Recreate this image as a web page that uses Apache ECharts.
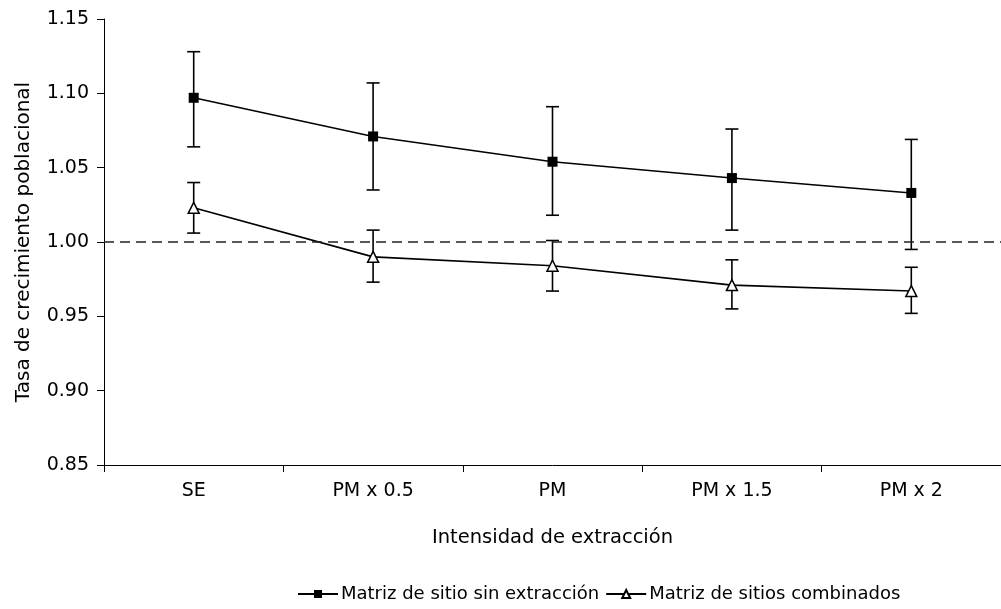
<!DOCTYPE html>
<html>
<head>
<meta charset="utf-8">
<script src="https://cdn.jsdelivr.net/npm/echarts@6/dist/echarts.min.js"></script>
<style>
  html, body { margin: 0; padding: 0; background: #fff; }
  #chart { width: 1001px; height: 609px; }
</style>
</head>
<body>
<div id="chart"></div>
<script>
// Intensity levels of extraction
const categories = ['SE', 'PM x 0.5', 'PM', 'PM x 1.5', 'PM x 2'];

// Growth rate, site matrix without extraction (mean and interval limits)
const sinExtraccion     = [1.097, 1.071, 1.054, 1.043, 1.033];
const sinExtraccionLow  = [1.064, 1.035, 1.018, 1.008, 0.995];
const sinExtraccionHigh = [1.128, 1.107, 1.091, 1.076, 1.069];

// Growth rate, combined sites matrix (mean and interval limits)
const combinados     = [1.023, 0.990, 0.984, 0.971, 0.967];
const combinadosLow  = [1.006, 0.973, 0.967, 0.955, 0.952];
const combinadosHigh = [1.040, 1.008, 1.001, 0.988, 0.983];

const yTicks = [0.85, 0.90, 0.95, 1.00, 1.05, 1.10, 1.15];

const FONT = '"DejaVu Sans", "Liberation Sans", Arial, sans-serif';
const INK = '#000';

function errorData(low, high) {
  return categories.map((c, i) => [i, low[i], high[i]]);
}

// Vertical whisker with horizontal caps
function renderError(params, api) {
  const x = api.value(0);
  const lo = api.coord([x, api.value(1)]);
  const hi = api.coord([x, api.value(2)]);
  const half = 6.5;
  const style = { stroke: INK, lineWidth: 1.6, fill: null };
  return {
    type: 'group',
    children: [
      { type: 'line', shape: { x1: lo[0], y1: lo[1], x2: hi[0], y2: hi[1] }, style },
      { type: 'line', shape: { x1: hi[0] - half, y1: hi[1], x2: hi[0] + half, y2: hi[1] }, style },
      { type: 'line', shape: { x1: lo[0] - half, y1: lo[1], x2: lo[0] + half, y2: lo[1] }, style }
    ]
  };
}

const chart = echarts.init(document.getElementById('chart'), null, { renderer: 'canvas' });

chart.setOption({
  backgroundColor: '#fff',
  animation: false,
  textStyle: { fontFamily: FONT, color: INK },
  grid: { left: 104, top: 19, width: 902, height: 446, containLabel: false },
  legend: {
    data: ['Matriz de sitio sin extracción', 'Matriz de sitios combinados'],
    left: 292,
    top: 580,
    itemWidth: 40,
    itemHeight: 10,
    itemGap: 6,
    textStyle: { fontFamily: FONT, fontSize: 18, color: INK, padding: [0, 0, 0, -2] }
  },
  xAxis: {
    type: 'category',
    data: categories,
    boundaryGap: true,
    name: 'Intensidad de extracción',
    nameLocation: 'middle',
    nameGap: 63,
    nameTextStyle: { fontFamily: FONT, fontSize: 19.5, color: INK },
    axisLine: { lineStyle: { color: INK, width: 1 } },
    axisTick: { show: true, inside: false, length: 7, alignWithLabel: false, lineStyle: { color: INK } },
    axisLabel: { fontFamily: FONT, fontSize: 19, color: INK, margin: 17 },
    splitLine: { show: false }
  },
  yAxis: {
    type: 'value',
    min: yTicks[0],
    max: yTicks[yTicks.length - 1],
    interval: 0.05,
    name: 'Tasa de crecimiento poblacional',
    nameLocation: 'middle',
    nameGap: 70,
    nameTextStyle: { fontFamily: FONT, fontSize: 20, color: INK },
    axisLine: { show: true, lineStyle: { color: INK, width: 1 } },
    axisTick: { show: true, inside: false, length: 7, lineStyle: { color: INK } },
    axisLabel: {
      fontFamily: FONT, fontSize: 19, color: INK, margin: 15,
      formatter: v => v.toFixed(2)
    },
    splitLine: { show: false }
  },
  series: [
    {
      type: 'custom',
      name: 'err1',
      renderItem: renderError,
      data: errorData(sinExtraccionLow, sinExtraccionHigh),
      encode: { x: 0, y: [1, 2] },
      z: 1,
      silent: true
    },
    {
      type: 'custom',
      name: 'err2',
      renderItem: renderError,
      data: errorData(combinadosLow, combinadosHigh),
      encode: { x: 0, y: [1, 2] },
      z: 1,
      silent: true
    },
    {
      type: 'line',
      name: 'Matriz de sitio sin extracción',
      data: sinExtraccion,
      symbol: 'rect',
      symbolSize: 10,
      showAllSymbol: true,
      lineStyle: { color: INK, width: 1.6 },
      itemStyle: { color: INK, borderColor: INK, borderWidth: 0 },
      z: 3,
      markLine: {
        silent: true,
        symbol: 'none',
        label: { show: false },
        lineStyle: { color: '#222', type: [10, 6], width: 1.5 },
        data: [{ yAxis: 1.0 }]
      }
    },
    {
      type: 'line',
      name: 'Matriz de sitios combinados',
      data: combinados,
      symbol: 'triangle',
      symbolSize: 11,
      showAllSymbol: true,
      lineStyle: { color: INK, width: 1.6 },
      itemStyle: { color: '#fff', borderColor: INK, borderWidth: 1.5 },
      z: 3
    }
  ]
});
</script>
</body>
</html>
